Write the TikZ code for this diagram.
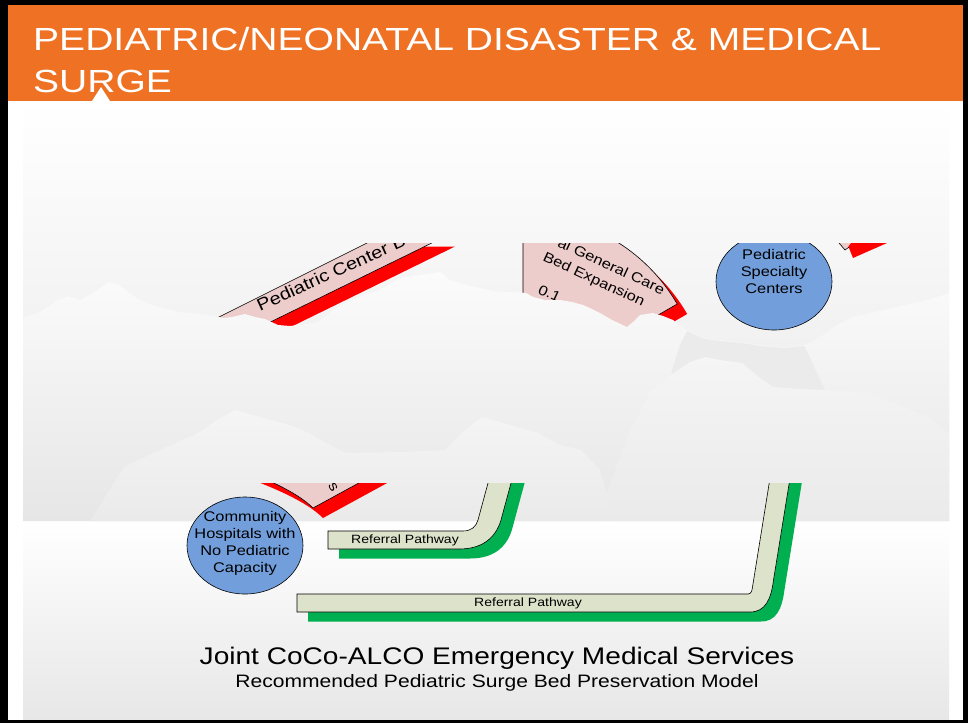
\documentclass[tikz,border=0pt]{standalone}
\usepackage{fontspec}
\setmainfont{Liberation Sans}[FakeStretch=1.17]
\newfontfamily\titlefont{Liberation Sans}[FakeStretch=1.22]
\usetikzlibrary{shapes.geometric}
\definecolor{orangeH}{HTML}{EE7124}
\definecolor{pinkF}{HTML}{EDCDCB}
\definecolor{redS}{HTML}{FF0000}
\definecolor{blueE}{HTML}{729FDB}
\definecolor{beigeB}{HTML}{DDE2CA}
\definecolor{greenS}{HTML}{00B050}
\definecolor{bgBot}{HTML}{E7E7E7}
\definecolor{bgMid}{HTML}{EEEEEE}
\definecolor{cloudTop}{HTML}{FBFBFB}
\definecolor{cloudMid}{HTML}{F5F5F5}
\definecolor{cloudBot}{HTML}{E6E6E6}
\definecolor{valley}{HTML}{EBEBEB}
\definecolor{mountTop}{HTML}{F5F5F5}
\definecolor{mountBot}{HTML}{EAEAEA}
\begin{document}
\begin{tikzpicture}[x=1pt,y=-1pt,
  pinkshape/.style={fill=pinkF, draw=black, line width=0.6pt},
  redshadow/.style={fill=redS, draw=none},
  greenshadow/.style={fill=greenS, draw=none},
  pathband/.style={fill=beigeB, draw=black, line width=0.6pt},
  ellnode/.style={ellipse, draw=black, line width=0.6pt, fill=blueE, minimum width=116pt, minimum height=97pt, inner sep=0pt},
  etext/.style={font=\fontsize{14}{17}\selectfont, align=center, inner sep=0pt},
  reftext/.style={font=\fontsize{12}{14}\selectfont, inner sep=0pt},
  bandtext/.style={font=\fontsize{17}{20}\selectfont, inner sep=0pt},
  secttext/.style={font=\fontsize{14}{17}\selectfont, inner sep=0pt, rotate=-25, anchor=base west},
  titletext/.style={font=\titlefont\fontsize{32}{40}\selectfont, text=white, inner sep=0pt, anchor=base west},
  mountain/.style={top color=mountTop, bottom color=mountBot, draw=none}
]
\useasboundingbox (0,0) rectangle (968,723);
% frame
\fill[black] (0,0) rectangle (968,723);
\fill[white] (7.5,5) rectangle (963,719.5);
% header
\fill[orangeH] (7.5,5) rectangle (963,101);
\fill[white] (92,101) -- (101,87) -- (110,101) -- cycle;
\node[titletext] (title1) at (33,50) {PEDIATRIC/NEONATAL DISASTER \& MEDICAL};
\node[titletext] (title2) at (33,92) {SURGE};
% backgrounds
\shade[top color=white, middle color=bgMid, bottom color=bgBot] (23,101) rectangle (949,521);
\shade[top color=white, bottom color=bgBot] (23,521) rectangle (949,719.5);

% ---------- upper diagram fragments ----------
\begin{scope}
\clip (23,243.5) rectangle (949,483.5);
% band "Pediatric Center B"
\fill[redshadow, shift={(10,10)}] (200,326.5) -- (380,236.5) -- (445,236.5) -- (250,332) -- cycle;
\path[pinkshape] (200,326.5) -- (380,236.5) -- (445,236.5) -- (250,332) -- cycle;
\node[bandtext, rotate=24.5, anchor=base west] (pcb) at (260,312) {Pediatric Center B};
% sector
\fill[redshadow, shift={(10,10)}] (523,215) arc[start angle=-90, end angle=-30, radius=178] -- (592.3,353) arc[start angle=-30, end angle=-90, radius=80] -- cycle;
\path[pinkshape] (523,215) arc[start angle=-90, end angle=-30, radius=178] -- (592.3,353) arc[start angle=-30, end angle=-90, radius=80] -- cycle;
\node[secttext] (gc1) at (556.8,246) {al General Care};
\node[secttext] (gc2) at (542,260) {Bed Expansion};
\node[secttext] (gc3) at (537,293) {0.1};
% top-right fragment
\fill[redshadow] (847,243) -- (887,243) -- (853,258) -- cycle;
\path[fill=pinkF] (839,243) -- (851,243) -- (845,250) -- cycle;
\draw[line width=0.6pt] (839,243) -- (845,250) -- (849,247);
% Pediatric Specialty Centers
\node[ellnode] (psc) at (774,281.5) {};
\node[etext] (psctext) at (774,271) {Pediatric\\Specialty\\Centers};
\end{scope}

% ---------- clouds ----------
\shade[top color=cloudTop, middle color=cloudMid, bottom color=cloudBot]
  (23,521) -- plot coordinates {(23,318) (40,312) (55,302) (68,296) (80,300) (95,292) (108,282) (118,284) (128,292) (140,300) (155,306) (170,310) (186,313) (200,314) (215,316) (223,318) (232,317) (245,314) (255,317) (265,319) (278,325) (290,326) (300,325) (318,322) (333,310) (345,303) (360,297) (380,290) (390,284) (400,278) (420,275) (433,273) (440,272) (450,280) (467,285) (480,288) (500,292) (515,292) (526,293) (533,297) (545,300) (560,300) (572,302) (583,305) (592,309) (600,313) (612,320) (627,327) (633,322) (640,315) (653,313) (663,316) (673,320) (680,326) (687,330) (693,333) (705,338) (720,340) (742,342) (760,345) (785,347) (804,345) (820,337) (835,326) (853,317) (870,313) (884,310) (905,305) (928,300) (940,296) (949,293)} -- (949,521) -- cycle;
\fill[valley] (687,331) -- (693,334) -- (705,339) -- (720,341) -- (742,343) -- (760,346) -- (785,348) -- (804,346) -- (812,362) -- (820,380) -- (830,400) -- (668,400) -- (672,370) -- (680,345) -- cycle;
% faint lower cloud masses
\shade[mountain] (596,521) -- plot coordinates {(615,470) (630,430) (637,417) (649,393) (668,377) (690,362) (705,357) (720,360) (742,363) (760,378) (773,387) (800,389) (822,390) (845,391) (866,393) (900,405) (928,417) (949,433)} -- (949,521) -- cycle;
\shade[mountain] (90,521) -- plot coordinates {(124,467) (160,450) (198,433) (220,418) (235,410) (260,417) (290,425) (309,433) (330,445) (346,453) (400,452) (445,450) (465,430) (482,417) (510,425) (538,433) (560,445) (581,450) (600,470) (615,521)} -- cycle;

% ---------- lower diagram fragments ----------
\begin{scope}
\clip (23,483.5) rectangle (949,720);
\fill[redshadow, shift={(10,10)}] (232,466) .. controls (262,477) and (296,491) .. (313,508) -- (400,460.5) -- (232,450) -- cycle;
\path[pinkshape] (232,466) .. controls (262,477) and (296,491) .. (313,508) -- (400,460.5) -- (232,450) -- cycle;
\node[font=\fontsize{14}{16}\selectfont, rotate=-60, inner sep=0pt] (frag) at (333,487) {s};
% Community ellipse
\node[ellnode] (chc) at (245,545.5) {};
\node[etext] (chctext) at (245,543.5) {Community\\Hospitals with\\No Pediatric\\Capacity};
% small referral band
\fill[greenshadow, shift={(11,9.5)}] (328,531) -- (463,531) .. controls (471,531) and (476,527) .. (478,520) -- (491,472) -- (514,472) -- (501,520) .. controls (495,540) and (480,549) .. (459,549) -- (328,549) -- cycle;
\path[pathband] (328,531) -- (463,531) .. controls (471,531) and (476,527) .. (478,520) -- (491,472) -- (514,472) -- (501,520) .. controls (495,540) and (480,549) .. (459,549) -- (328,549) -- cycle;
\node[reftext] (ref1) at (405,540) {Referral Pathway};
% large referral band
\fill[greenshadow, shift={(11,9.5)}] (297,594) -- (748,594) .. controls (751,594) and (752,591) .. (752.5,587) -- (771,472) -- (791,472) -- (773.5,580) .. controls (771,600) and (765,612) .. (750,612) -- (297,612) -- cycle;
\path[pathband] (297,594) -- (748,594) .. controls (751,594) and (752,591) .. (752.5,587) -- (771,472) -- (791,472) -- (773.5,580) .. controls (771,600) and (765,612) .. (750,612) -- (297,612) -- cycle;
\node[reftext] (ref2) at (528,603) {Referral Pathway};
\end{scope}

% captions
\node[font=\fontsize{24}{28}\selectfont, anchor=base, inner sep=0pt] (cap1) at (497,664) {Joint CoCo-ALCO Emergency Medical Services};
\node[font=\fontsize{18}{21}\selectfont, anchor=base, inner sep=0pt] (cap2) at (497,687) {Recommended Pediatric Surge Bed Preservation Model};
\end{tikzpicture}
\end{document}
